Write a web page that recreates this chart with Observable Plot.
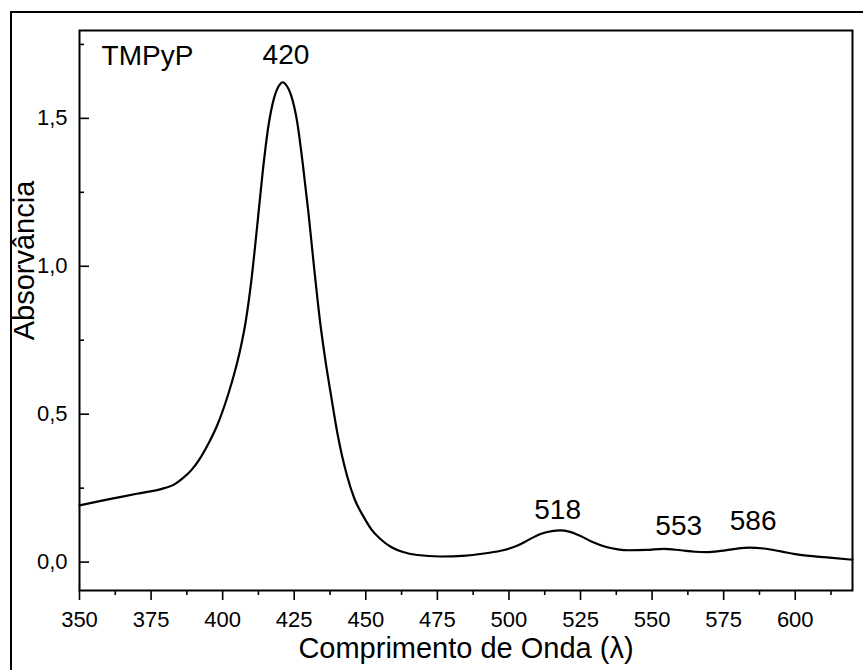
<!DOCTYPE html>
<html>
<head>
<meta charset="utf-8">
<script src="https://cdn.jsdelivr.net/npm/d3@7"></script>
<script src="https://cdn.jsdelivr.net/npm/@observablehq/plot@0.6"></script>
<style>
  html, body { margin: 0; padding: 0; background: #fff; }
  #wrap { position: relative; width: 863px; height: 670px; overflow: hidden; }
  #border { position: absolute; left: 10px; top: 11px; width: 900px; height: 700px;
            border-left: 2px solid #000; border-top: 2px solid #000; box-sizing: border-box; pointer-events: none; }
</style>
</head>
<body>
<div id="wrap"><div id="border"></div></div>
<script>
// Spectrum: wavelength (nm) and absorbance
const wavelength = [350, 360, 370, 380, 383, 386, 389, 392, 395, 398, 402, 404, 406, 408, 410, 412, 414, 416, 418, 420, 421, 422, 424, 426, 428, 430, 432, 434, 436, 438, 440, 443.5, 446, 449.3, 452, 455, 459, 463, 468, 476, 485, 492, 498, 503, 507, 511, 515, 518, 521, 525, 529, 534, 538, 542, 548, 554, 560, 565, 569, 574, 579, 584, 589, 595, 600, 606, 612, 620];
const absorbance = [0.192, 0.212, 0.231, 0.251, 0.262, 0.283, 0.310, 0.349, 0.400, 0.460, 0.569, 0.635, 0.712, 0.810, 0.950, 1.130, 1.320, 1.475, 1.570, 1.615, 1.622, 1.615, 1.575, 1.490, 1.345, 1.178, 0.990, 0.815, 0.675, 0.555, 0.440, 0.290, 0.215, 0.152, 0.110, 0.079, 0.050, 0.034, 0.024, 0.019, 0.022, 0.030, 0.040, 0.056, 0.076, 0.095, 0.105, 0.107, 0.103, 0.088, 0.069, 0.051, 0.043, 0.040, 0.041, 0.045, 0.040, 0.035, 0.034, 0.038, 0.045, 0.049, 0.046, 0.036, 0.027, 0.020, 0.015, 0.008];

// Peak annotations
const peakLabels = ["420", "518", "553", "586"];
const peakX = [422.1, 517.0, 559.3, 585.3];
const peakY = [1.683, 0.147, 0.090, 0.110];
const sampleName = "TMPyP";
const sampleX = 357.7;
const sampleY = 1.679;

// Axis ticks
const xMajor = [350, 375, 400, 425, 450, 475, 500, 525, 550, 575, 600];
const xMinor = [362.5, 387.5, 412.5, 437.5, 462.5, 487.5, 512.5, 537.5, 562.5, 587.5, 612.5];
const yMajor = [0, 0.5, 1.0, 1.5];
const yMinor = [0.25, 0.75, 1.25, 1.75];
const xTitle = "Comprimento de Onda (λ)";
const yTitle = "Absorvância";

const spectrum = wavelength.map((w, i) => ({w, a: absorbance[i]}));
const peaks = peakLabels.map((t, i) => ({t, x: peakX[i], y: peakY[i]}));

const W = 863, H = 670, ML = 79, MR = 11, MT = 30, MB = 80;
const plotW = W - ML - MR;
const fmt = d => d3.format(".1f")(d).replace(".", ",");
const FONT = "Arial, 'Liberation Sans', sans-serif";

const chart = Plot.plot({
  width: W,
  height: H,
  marginLeft: ML,
  marginRight: MR,
  marginTop: MT,
  marginBottom: MB,
  style: {fontFamily: FONT, background: "#fff", color: "#000"},
  x: {domain: [350, 620]},
  y: {domain: [-0.096, 1.797]},
  marks: [
    Plot.line(spectrum, {x: "w", y: "a", stroke: "#000", strokeWidth: 2.2, curve: "monotone-x"}),
    Plot.frame({stroke: "#000", strokeWidth: 2}),
    Plot.axisX({ticks: xMajor, tickSize: 10, tickFormat: () => "", label: null, strokeWidth: 1.6}),
    Plot.axisX({ticks: xMinor, tickSize: 5, tickFormat: () => "", label: null, strokeWidth: 1.6}),
    Plot.axisY({ticks: yMajor, tickSize: 0, tickFormat: () => "", label: null}),
    Plot.text(xMajor, {x: d => d, text: d => String(d), frameAnchor: "bottom", lineAnchor: "bottom", dy: 36, fontSize: 22, fill: "#000", fontFamily: FONT}),
    Plot.text(yMajor, {y: d => d, text: fmt, frameAnchor: "left", textAnchor: "end", lineAnchor: "middle", dx: -12, fontSize: 22, fill: "#000", fontFamily: FONT}),
    Plot.tickY(yMajor, {y: d => d, insetRight: plotW - 10, stroke: "#000", strokeWidth: 1.6}),
    Plot.tickY(yMinor, {y: d => d, insetRight: plotW - 5, stroke: "#000", strokeWidth: 1.6}),
    Plot.text(peaks, {x: "x", y: "y", text: "t", lineAnchor: "bottom", fontSize: 28, fill: "#000"}),
    Plot.text([sampleName], {x: sampleX, y: sampleY, text: d => d, textAnchor: "start", lineAnchor: "bottom", fontSize: 28, fill: "#000"}),
    Plot.text([xTitle], {frameAnchor: "bottom", text: d => d, textAnchor: "middle", lineAnchor: "bottom", dy: 67, fontSize: 29, fill: "#000"}),
    Plot.text([yTitle], {frameAnchor: "left", text: d => d, rotate: -90, textAnchor: "middle", lineAnchor: "bottom", dx: -46, dy: -50, fontSize: 29, fill: "#000"})
  ]
});
document.getElementById("wrap").prepend(chart);
</script>
</body>
</html>
